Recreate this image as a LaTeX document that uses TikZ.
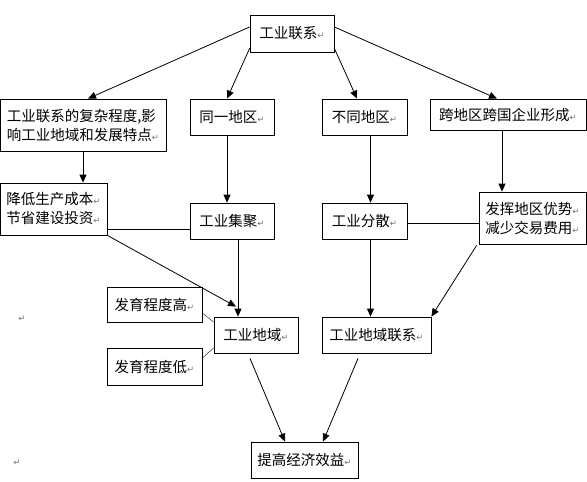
\documentclass[tikz,border=0pt]{standalone}
\usepackage{fontspec}
\setmainfont{Noto Sans CJK SC}
\newfontfamily\symfont{DejaVu Sans}
\usetikzlibrary{arrows.meta,calc}
\newcommand\parmk{{\symfont\fontsize{8.5}{8.5}\selectfont\textcolor{black!55}{↵}}}
\begin{document}
\begin{tikzpicture}[x=1pt,y=-1pt,
  box/.style={draw, line width=0.8pt, inner sep=0pt, align=left, font=\fontsize{14.5}{19}\selectfont},
  arr/.style={-{Triangle[length=8pt,width=7pt]}, line width=0.8pt},
  plain/.style={line width=0.8pt},
  thinline/.style={line width=0.5pt, draw=black!80},
  stray/.style={inner sep=0pt}]
\useasboundingbox[fill=white] (0,0) rectangle (587,482);

\node[box, minimum width=84pt, minimum height=37pt] (A) at (292,33.5) {工业联系\parmk};
\node[box, minimum width=166pt, minimum height=52pt] (B) at (83,125) {工业联系的复杂程度,影\\响工业地域和发展特点\parmk};
\node[box, minimum width=84pt, minimum height=36pt] (C) at (232,117) {同一地区\parmk};
\node[box, minimum width=85pt, minimum height=36pt] (D) at (364.5,117) {不同地区\parmk};
\node[box, minimum width=156pt, minimum height=31pt] (E) at (508,114.5) {跨地区跨国企业形成\parmk};
\node[box, minimum width=107pt, minimum height=52pt] (F) at (53.5,209) {降低生产成本\parmk\\节省建设投资\parmk};
\node[box, minimum width=84pt, minimum height=36pt] (G) at (232,221) {工业集聚\parmk};
\node[box, minimum width=85pt, minimum height=36pt] (H) at (364.5,221) {工业分散\parmk};
\node[box, minimum width=107pt, minimum height=52pt] (I) at (532.5,218) {发挥地区优势\parmk\\减少交易费用\parmk};
\node[box, minimum width=95pt, minimum height=35pt] (J) at (154.5,304.5) {发育程度高\parmk};
\node[box, minimum width=95pt, minimum height=37pt] (K) at (154.5,366.5) {发育程度低\parmk};
\node[box, minimum width=84pt, minimum height=36pt] (L) at (256,335) {工业地域\parmk};
\node[box, minimum width=109pt, minimum height=36pt] (M) at (376.5,335) {工业地域联系\parmk};
\node[box, minimum width=107pt, minimum height=36pt] (N) at (304.5,460) {提高经济效益\parmk};

\node[stray] (s1) at (22,319) {\parmk};
\node[stray] (s2) at (17,463) {\parmk};

\draw[arr] ([yshift=6.5pt]A.west) -- ([xshift=5pt]B.north);
\draw[arr] ([yshift=4pt]A.south west) -- ([xshift=-5pt]C.north);
\draw[arr] ([yshift=4pt]A.south east) -- ([xshift=-7.5pt]D.north);
\draw[arr] ([yshift=6.5pt]A.east) -- ([xshift=-11pt]E.north);

\draw[arr] (B.south) -- (B.south |- F.north);
\draw[arr] ([xshift=-5pt]C.south) -- ([xshift=-5pt]G.north);
\draw[arr] ([xshift=6pt]D.south) -- ([xshift=6pt]H.north);
\draw[arr] ([xshift=-6pt]E.south) -- ([xshift=-6pt]E.south |- I.north);

\draw[plain] ([yshift=-20pt]F.east) -- ([yshift=-20pt]F.east -| G.west);
\draw[plain] ([yshift=-2pt]H.east) -- ([yshift=-2pt]H.east -| I.west);

\draw[arr] (F.south east) -- ([xshift=-20pt,yshift=10pt]L.north);
\draw[arr] ([xshift=6pt]G.south) -- ([xshift=6pt]G.south |- L.north);
\draw[arr] ([xshift=6pt]H.south) -- ([xshift=6pt]H.south |- M.north);
\draw[arr] ([xshift=-2pt,yshift=-1pt]I.south west) -- (M.north east);

\draw[thinline] ([yshift=-8.5pt]J.east) -- ([yshift=13pt]L.west);
\draw[thinline] ([yshift=8.5pt]K.east) -- ([yshift=-13pt]L.west);

\draw[arr] ([xshift=-6pt,yshift=-5pt]L.south) -- ([xshift=-19.5pt]N.north);
\draw[arr] ([xshift=-18.5pt,yshift=-5pt]M.south) -- ([xshift=18.5pt]N.north);
\end{tikzpicture}
\end{document}
